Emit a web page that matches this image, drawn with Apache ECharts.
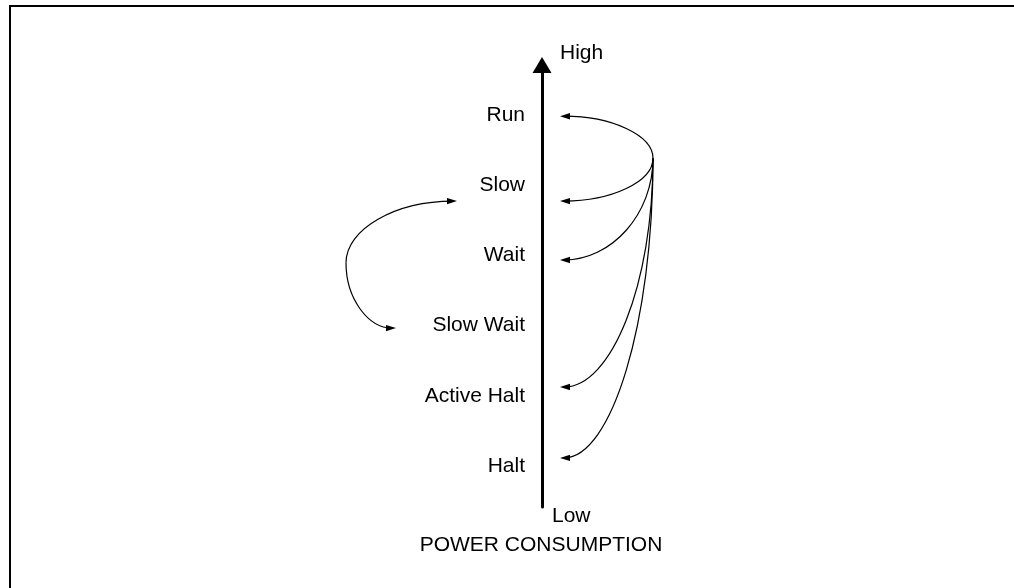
<!DOCTYPE html>
<html>
<head>
<meta charset="utf-8">
<script src="https://cdn.jsdelivr.net/npm/echarts@6/dist/echarts.min.js"></script>
<style>
  html, body { margin: 0; padding: 0; background: #fff; }
  #chart { width: 1014px; height: 588px; }
</style>
</head>
<body>
<div id="chart"></div>
<script>
// ---- data ----
const states = ['Run', 'Slow', 'Wait', 'Slow Wait', 'Active Halt', 'Halt'];
const stateLevel = [6, 5, 4, 3, 2, 1];
// transitions leaving the common point on the right (to each state's entry level)
const rightFrom = [111, 5.37];
const rightTargets = ['Run', 'Slow', 'Wait', 'Active Halt', 'Halt'];
const rightTargetLevel = [5.97, 4.76, 3.92, 2.11, 1.10];
const rightTargetX = 18;
// Slow <-> Slow Wait transitions on the left
const leftFrom = [-196, 3.88];
const leftTargets = ['Slow', 'Slow Wait'];
const leftTargetX = [-85, -146];
const leftTargetLevel = [4.76, 2.95];
const axisNameHigh = 'High';
const axisNameLow = 'Low';
const axisTitle = 'POWER CONSUMPTION';

// ---- build ----
const FONT = '"Liberation Sans", Arial, Helvetica, sans-serif';
const X_MIN = -474, X_MAX = 472;
const arcData = [];
rightTargetLevel.forEach(function (lv) { arcData.push([rightFrom[0], rightFrom[1], rightTargetX, lv]); });
leftTargetLevel.forEach(function (lv, i) { arcData.push([leftFrom[0], leftFrom[1], leftTargetX[i], lv]); });
const labelData = stateLevel.map(function (lv) { return [-17, lv]; });

function renderArc(params, api) {
  const p0 = api.coord([api.value(0), api.value(1)]);
  const p3 = api.coord([api.value(2), api.value(3)]);
  const c = [p0[0], p3[1]];
  const k = 0.5523;
  const p1 = [p0[0] + k * (c[0] - p0[0]), p0[1] + k * (c[1] - p0[1])];
  const p2 = [p3[0] + k * (c[0] - p3[0]), p3[1] + k * (c[1] - p3[1])];
  let dx = p3[0] - p2[0], dy = p3[1] - p2[1];
  const len = Math.sqrt(dx * dx + dy * dy) || 1;
  dx /= len; dy /= len;
  const L = 10, W = 3.2;
  const bx = p3[0] - dx * L, by = p3[1] - dy * L;
  const nx = -dy, ny = dx;
  const endX = p3[0] - dx * 4, endY = p3[1] - dy * 4;
  return {
    type: 'group',
    children: [
      {
        type: 'bezierCurve',
        shape: { x1: p0[0], y1: p0[1], cpx1: p1[0], cpy1: p1[1], cpx2: p2[0], cpy2: p2[1], x2: endX, y2: endY },
        style: { stroke: '#000', lineWidth: 1.2, fill: null }
      },
      {
        type: 'polygon',
        shape: { points: [[p3[0], p3[1]], [bx + nx * W, by + ny * W], [bx - nx * W, by - ny * W]] },
        style: { fill: '#000' }
      }
    ]
  };
}

function renderLabel(params, api) {
  const p = api.coord([api.value(0), api.value(1)]);
  return {
    type: 'text',
    x: p[0], y: p[1] + 1,
    style: {
      text: states[params.dataIndex],
      fill: '#000',
      font: '21px ' + FONT,
      align: 'right',
      verticalAlign: 'middle'
    }
  };
}

const chart = echarts.init(document.getElementById('chart'), null, { renderer: 'canvas' });
chart.setOption({
  animation: false,
  backgroundColor: '#fff',
  textStyle: { fontFamily: FONT },
  graphic: [{
    type: 'rect',
    shape: { x: 10, y: 6, width: 1010, height: 600 },
    style: { fill: null, stroke: '#000', lineWidth: 2 },
    silent: true
  }],
  grid: { left: 68, right: 0, top: 65, bottom: 81, containLabel: false },
  xAxis: {
    type: 'value', min: X_MIN, max: X_MAX,
    name: axisTitle, nameLocation: 'middle', nameGap: 38,
    nameTextStyle: { color: '#000', fontSize: 21, fontFamily: FONT, verticalAlign: 'middle' },
    axisLine: { show: false, onZero: false },
    axisTick: { show: false }, axisLabel: { show: false }, splitLine: { show: false }
  },
  yAxis: [{
    type: 'value', min: 0.4, max: 6.7,
    name: axisNameHigh, nameLocation: 'end', nameGap: 12,
    nameTextStyle: { color: '#000', fontSize: 21, fontFamily: FONT, align: 'left', verticalAlign: 'middle', padding: [0, 0, 0, 18] },
    axisLine: { show: true, onZero: true, lineStyle: { color: '#000', width: 3 }, symbol: ['none', 'triangle'], symbolSize: [19, 16] },
    axisTick: { show: false }, axisLabel: { show: false }, splitLine: { show: false }
  }, {
    type: 'value', min: 0.4, max: 6.7, position: 'left', offset: X_MIN,
    name: axisNameLow, nameLocation: 'start', nameGap: 9,
    nameTextStyle: { color: '#000', fontSize: 21, fontFamily: FONT, align: 'left', verticalAlign: 'middle', padding: [0, 0, 0, 10] },
    axisLine: { show: false, onZero: false },
    axisTick: { show: false }, axisLabel: { show: false }, splitLine: { show: false }
  }],
  series: [{
    type: 'custom',
    name: 'transitions',
    coordinateSystem: 'cartesian2d',
    clip: false,
    silent: true,
    encode: { x: [0, 2], y: [1, 3] },
    renderItem: renderArc,
    data: arcData
  }, {
    type: 'custom',
    name: 'states',
    coordinateSystem: 'cartesian2d',
    clip: false,
    silent: true,
    encode: { x: 0, y: 1 },
    renderItem: renderLabel,
    data: labelData
  }]
});
</script>
</body>
</html>
